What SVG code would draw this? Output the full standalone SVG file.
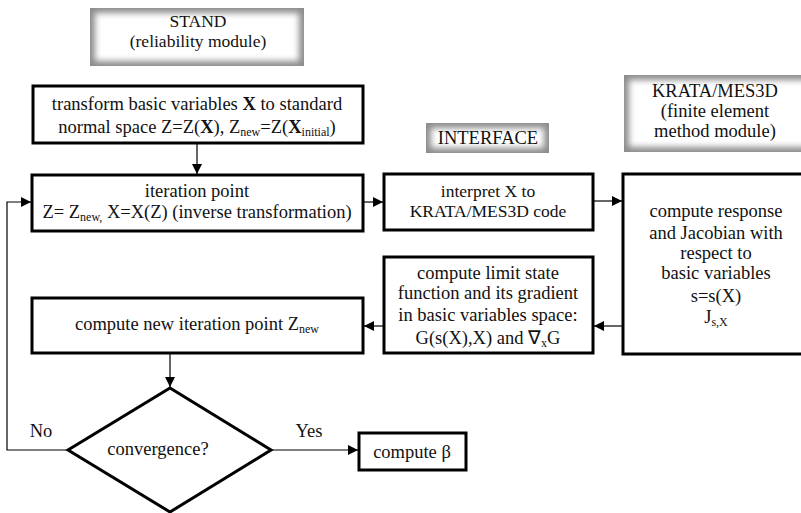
<svg xmlns="http://www.w3.org/2000/svg" width="801" height="513" viewBox="0 0 801 513">
<style>
  text { font-family: "Liberation Serif", "Times New Roman", serif; font-size: 18.5px; fill: #111; text-anchor: middle; }
  .box { fill: #fff; stroke: #000; stroke-width: 3; }
  .lbl-bg { fill: #8c8c8c; }
  .lbl-in { fill: #fff; filter: url(#soft); }
  .con { fill: none; stroke: #000; stroke-width: 1.2; }
  .sub { font-size: 12px; }
  .sm { font-size: 17.5px; }
  .dia { fill: #fff; stroke: #000; stroke-width: 3; stroke-linejoin: miter; }
</style>
<defs>
  <filter id="soft" x="-20%" y="-50%" width="140%" height="200%">
    <feGaussianBlur stdDeviation="3"/>
  </filter>
  <marker id="arr" viewBox="0 0 10 10" refX="10" refY="5" markerWidth="10" markerHeight="10" markerUnits="userSpaceOnUse" orient="auto">
    <path d="M0,0 L10,5 L0,10 Z" fill="#000"/>
  </marker>
</defs>
<rect width="801" height="513" fill="#fff"/>

<g id="stand-label">
  <rect class="lbl-bg" x="90" y="8" width="214" height="58"/>
  <rect class="lbl-in" x="95" y="13" width="204" height="48"/>
  <text class="sm" x="198" y="27">STAND</text>
  <text class="sm" x="198" y="47">(reliability module)</text>
</g>

<g id="interface-label">
  <rect class="lbl-bg" x="426" y="123" width="123" height="30"/>
  <rect class="lbl-in" x="431" y="128" width="113" height="20"/>
  <text x="488" y="144">INTERFACE</text>
</g>

<g id="krata-label">
  <rect class="lbl-bg" x="624" y="75" width="190" height="77"/>
  <rect class="lbl-in" x="629" y="80" width="180" height="67"/>
  <text x="715" y="97">KRATA/MES3D</text>
  <text x="715" y="117">(finite element</text>
  <text x="715" y="137">method module)</text>
</g>

<g id="transform">
  <rect class="box" x="33" y="86" width="330" height="57"/>
  <text x="197" y="110">transform basic variables <tspan font-weight="bold">X</tspan> to standard</text>
  <text x="197" y="133">normal space Z=Z(<tspan font-weight="bold">X</tspan>), Z<tspan class="sub" dy="3">new</tspan><tspan dy="-3">=Z(</tspan><tspan font-weight="bold">X</tspan><tspan class="sub" dy="3">initial</tspan><tspan dy="-3">)</tspan></text>
</g>

<g id="iteration">
  <rect class="box" x="32" y="175" width="331" height="56"/>
  <text x="197" y="197">iteration point</text>
  <text x="197" y="218">Z= Z<tspan class="sub" dy="3">new,</tspan><tspan dy="-3"> X=X(Z) (inverse transformation)</tspan></text>
</g>

<g id="interpret">
  <rect class="box" x="384" y="174" width="209" height="56"/>
  <text class="sm" x="488" y="197">interpret X to</text>
  <text class="sm" x="488" y="217">KRATA/MES3D code</text>
</g>

<g id="response">
  <rect class="box" x="623" y="174" width="190" height="180"/>
  <text x="716" y="217">compute response</text>
  <text x="716" y="239">and Jacobian with</text>
  <text x="716" y="259">respect to</text>
  <text x="716" y="279">basic variables</text>
  <text x="716" y="302">s=s(X)</text>
  <text x="716" y="323">J<tspan class="sub" dy="3">s,X</tspan></text>
</g>

<g id="limit">
  <rect class="box" x="384" y="257" width="209" height="96"/>
  <text x="488" y="279">compute limit state</text>
  <text x="488" y="299">function and its gradient</text>
  <text x="488" y="321">in basic variables space:</text>
  <text x="488" y="344">G(s(X),X) and  ∇<tspan class="sub" dy="3">x</tspan><tspan dy="-3">G</tspan></text>
</g>

<g id="newpoint">
  <rect class="box" x="32" y="298" width="331" height="55"/>
  <text x="197" y="330">compute new iteration point Z<tspan class="sub" dy="3">new</tspan></text>
</g>

<g id="convergence">
  <polygon class="dia" points="170,388 271,450 170,512 68,450"/>
  <text x="158" y="455">convergence?</text>
</g>

<g id="beta">
  <rect class="box" x="359" y="433" width="107" height="37"/>
  <text x="412" y="458">compute β</text>
</g>

<g id="connectors">
  <line class="con" x1="197" y1="143" x2="197" y2="174" marker-end="url(#arr)"/>
  <line class="con" x1="363" y1="202" x2="383" y2="202" marker-end="url(#arr)"/>
  <line class="con" x1="593" y1="201" x2="622" y2="201" marker-end="url(#arr)"/>
  <line class="con" x1="623" y1="326" x2="594" y2="326" marker-end="url(#arr)"/>
  <line class="con" x1="384" y1="326" x2="364" y2="326" marker-end="url(#arr)"/>
  <line class="con" x1="170" y1="353" x2="170" y2="387" marker-end="url(#arr)"/>
  <line class="con" x1="271" y1="450" x2="358" y2="450" marker-end="url(#arr)"/>
  <polyline class="con" points="68,450 7,450 7,202 31,202" marker-end="url(#arr)"/>
  <text x="41" y="437">No</text>
  <text x="309" y="437">Yes</text>
</g>
</svg>
